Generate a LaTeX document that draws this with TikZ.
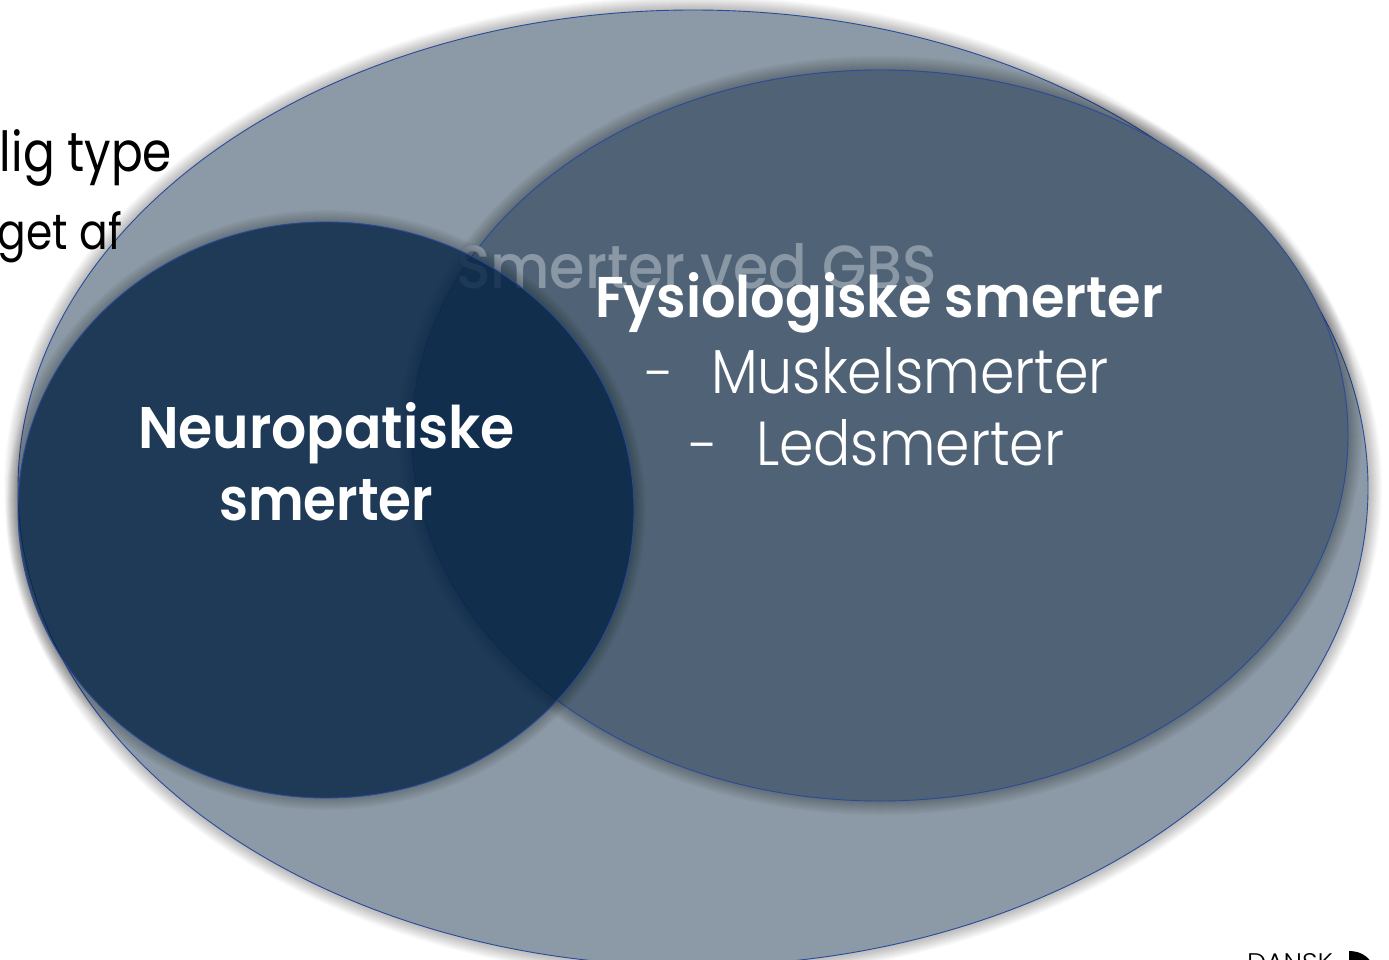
\documentclass[tikz,border=0pt]{standalone}
\usepackage{fontspec}
\setmainfont{Poppins}
\IfFontExistsTF{Poppins Light}{\newfontfamily\lightfont{Poppins Light}}{\newfontfamily\lightfont{Poppins}}
\IfFontExistsTF{Poppins SemiBold}{\newfontfamily\semifont{Poppins SemiBold}}{\newfontfamily\semifont{Poppins}[FakeBold=1.5]}
\IfFontExistsTF{Poppins Medium}{\newfontfamily\medfont{Poppins Medium}}{\newfontfamily\medfont{Poppins}}
\usetikzlibrary{shapes.geometric}
\definecolor{outerfill}{HTML}{8C99A6}
\definecolor{fysfill}{HTML}{506376}
\definecolor{neurofill}{HTML}{022142}
\definecolor{edgeblue}{HTML}{2A4A9A}
\definecolor{ghost}{HTML}{8A97A5}
\tikzset{
  blob/.style={ellipse, draw=edgeblue, line width=0.9pt, inner sep=0pt},
  shade ring/.style={fill=black, opacity=0.018, even odd rule},
  txt/.style={inner sep=0pt, outer sep=0pt},
}
\begin{document}
\begin{tikzpicture}[x=1pt,y=-1pt]
\useasboundingbox (0,0) rectangle (1389,960);
\clip (0,0) rectangle (1389,960);
\fill[white] (0,0) rectangle (1389,960);

% outer ellipse
\foreach \k in {1,...,14}
  \fill[shade ring] (693,488) ellipse [x radius={675pt+\k*1pt}, y radius={478pt+\k*1pt}]
                    (693,488) ellipse [x radius=675pt, y radius=478pt];
\node[blob, fill=outerfill, minimum width=1350pt, minimum height=956pt] (outer) at (693,488) {};

% top-left cropped text
\node[txt, anchor=base east, text=black] (l1) at (172,172) {\resizebox{172pt}{42pt}{lig type}};
\node[txt, anchor=base east, text=black] (l2) at (122,250) {\resizebox{124pt}{38pt}{get af}};

% fysiologiske ellipse
\foreach \k in {1,...,14}
  \fill[shade ring] (880,435.5) ellipse [x radius={468pt+\k*1pt}, y radius={365.5pt+\k*1pt}]
                    (880,435.5) ellipse [x radius=468pt, y radius=365.5pt];
\node[blob, fill=fysfill, minimum width=936pt, minimum height=731pt] (fys) at (880,435.5) {};

% ghost title
\node[txt, anchor=base west, text=ghost] (title) at (456,288) {\resizebox{481pt}{45pt}{\medfont Smerter ved GBS}};

% neuropatiske circle
\foreach \k in {1,...,12}
  \fill[shade ring] (326,510) ellipse [x radius={308pt+\k*1pt}, y radius={288pt+\k*1pt}]
                    (326,510) ellipse [x radius=308pt, y radius=288pt];
\node[ellipse, inner sep=0pt, fill=neurofill, fill opacity=0.79, minimum width=616pt, minimum height=576pt] (neuro) at (326,510) {};
\node[blob, minimum width=616pt, minimum height=576pt] (neuroedge) at (326,510) {};

% labels
\node[txt, anchor=base west, text=white] (fystitle) at (595,317) {\resizebox{568pt}{45pt}{\semifont Fysiologiske smerter}};
\node[txt, anchor=base, text=white] (d1) at (660,393) {\lightfont\fontsize{56}{60}\selectfont -};
\node[txt, anchor=base west, text=white] (mus) at (711,393) {\resizebox{398pt}{46pt}{\lightfont Muskelsmerter}};
\node[txt, anchor=base, text=white] (d2) at (704,465) {\lightfont\fontsize{56}{60}\selectfont -};
\node[txt, anchor=base west, text=white] (led) at (756,465) {\resizebox{308pt}{46pt}{\lightfont Ledsmerter}};
\node[txt, anchor=base west, text=white] (n1) at (138,448) {\resizebox{377pt}{46pt}{\semifont Neuropatiske}};
\node[txt, anchor=base west, text=white] (n2) at (219,520) {\resizebox{214pt}{41pt}{\semifont smerter}};

% footer
\node[txt, anchor=base west, text=black] (dansk) at (1247,971) {\resizebox{86pt}{18pt}{\lightfont DANSK}};
\fill[black] (1349,951) .. controls (1362,951) and (1370,958) .. (1374,967) -- (1349,967) -- cycle;
\end{tikzpicture}
\end{document}
